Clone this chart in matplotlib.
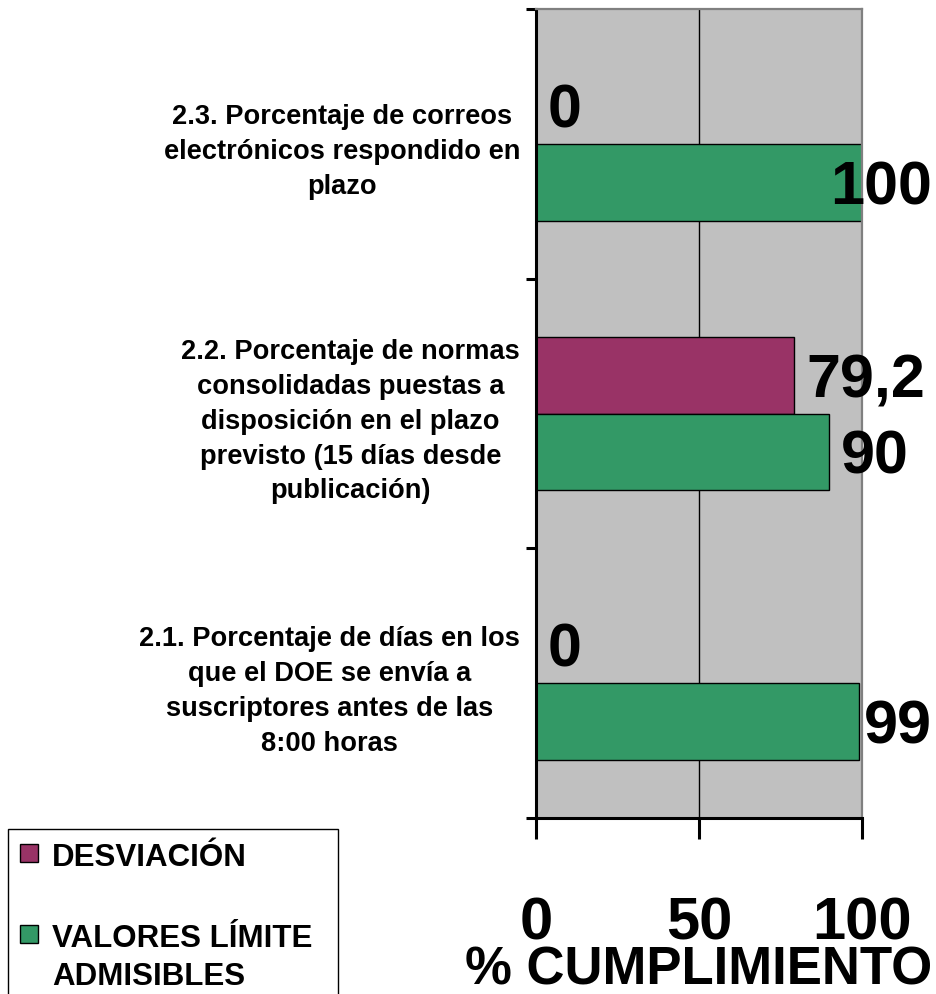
import matplotlib

matplotlib.use("Agg")
import matplotlib.pyplot as plt
import numpy as np
from matplotlib.patches import Rectangle

# Values (bottom category first).
CATEGORIES = [
    "2.1. Porcentaje de días en los\nque el DOE se envía a\nsuscriptores antes de las\n8:00 horas",
    "2.2. Porcentaje de normas\nconsolidadas puestas a\ndisposición en el plazo\nprevisto (15 días desde\npublicación)",
    "2.3. Porcentaje de correos\nelectrónicos respondido en\nplazo",
]
DESVIACION = [0, 79.2, 0]
VALORES_LIMITE = [99, 90, 100]
SERIES_NAMES = ["DESVIACIÓN", "VALORES LÍMITE\nADMISIBLES"]
X_TICKS = [0, 50, 100]
X_LABEL = "% CUMPLIMIENTO"

PURPLE = "#993366"
GREEN = "#339966"
PLOT_GRAY = "#C0C0C0"
BORDER_GRAY = "#808080"
FIG_W, FIG_H = 937, 995
DPI = 100

plt.rcParams["font.family"] = ["Liberation Sans", "DejaVu Sans"]
plt.rcParams["font.weight"] = "bold"


def fmt_value(value: float) -> str:
    if float(value).is_integer():
        return str(int(value))
    return f"{value:.1f}".replace(".", ",")


fig = plt.figure(figsize=(FIG_W / DPI, FIG_H / DPI), dpi=DPI)
ax = fig.add_axes(
    [536 / FIG_W, 1 - 819 / FIG_H, (862 - 536) / FIG_W, (819 - 10) / FIG_H]
)
ax.set_facecolor(PLOT_GRAY)

positions = np.arange(len(CATEGORIES))
bar_h = 0.285
purple_bars = ax.barh(
    positions + bar_h / 2, DESVIACION, height=bar_h,
    color=PURPLE, edgecolor="black", linewidth=1.0,
)
green_bars = ax.barh(
    positions - bar_h / 2, VALORES_LIMITE, height=bar_h,
    color=GREEN, edgecolor="black", linewidth=1.0,
)

ax.set_xlim(0, 100)
ax.set_ylim(-0.5, len(CATEGORIES) - 0.5)

# category boundaries carry the ticks, names sit on minor ticks
ax.set_yticks(np.arange(len(CATEGORIES) + 1) - 0.5)
ax.set_yticklabels([])
ax.set_yticks(positions, CATEGORIES, minor=True)
for lab in ax.get_yticklabels(minor=True):
    lab.set_multialignment("center")
    lab.set_linespacing(1.44)
ax.tick_params(axis="y", which="major", direction="out", length=7, width=2.2)
ax.tick_params(axis="y", which="minor", length=0, pad=11.5, labelsize=19.6)

ax.set_xticks(X_TICKS, [str(t) for t in X_TICKS])
ax.tick_params(axis="x", direction="out", length=15, width=2.2, pad=41, labelsize=43)
ax.set_xlabel(X_LABEL, fontsize=38, fontweight="bold")
ax.xaxis.set_label_coords(0.5, -0.156)

ax.set_axisbelow(True)
ax.grid(axis="x", color="black", linewidth=1.0)
ax.grid(axis="y", visible=False)

for side in ("left", "bottom"):
    ax.spines[side].set_color("black")
    ax.spines[side].set_linewidth(2.2)
for side in ("top", "right"):
    ax.spines[side].set_color(BORDER_GRAY)
    ax.spines[side].set_linewidth(1.6)

labels = []
for bars, values in ((purple_bars, DESVIACION), (green_bars, VALORES_LIMITE)):
    for rect, value in zip(bars, values):
        ann = ax.annotate(
            fmt_value(value),
            xy=(value, rect.get_y() + rect.get_height() / 2),
            xytext=(8.5, -4), textcoords="offset points",
            ha="left", va="center", fontsize=44, fontweight="bold",
            annotation_clip=False,
        )
        labels.append(ann)

# Excel pulls labels back inside the chart when they would spill off the edge
fig.canvas.draw()
renderer = fig.canvas.get_renderer()
right_limit = 932
for ann in labels:
    box = ann.get_window_extent(renderer)
    if box.x1 > right_limit:
        shift_pt = (box.x1 - right_limit) * 72 / DPI
        dx, dy = ann.xyann
        ann.xyann = (dx - shift_pt, dy)

# hand-built legend box, as in the original
fig.patches.append(
    Rectangle((8 / FIG_W, -0.05), 330 / FIG_W, (1 - 830 / FIG_H) + 0.05,
              transform=fig.transFigure, facecolor="white",
              edgecolor="black", linewidth=1.0)
)
legend_rows = [(854, PURPLE), (935, GREEN)]
for (y_px, color), name in zip(legend_rows, SERIES_NAMES):
    fig.patches.append(
        Rectangle((20 / FIG_W, 1 - (y_px + 9) / FIG_H), 18 / FIG_W, 18 / FIG_H,
                  transform=fig.transFigure, facecolor=color,
                  edgecolor="black", linewidth=1.0)
    )
    fig.text(52 / FIG_W, 1 - (y_px - 11) / FIG_H, name, fontsize=22.5,
             fontweight="bold", ha="left", va="top", linespacing=1.36)

fig.savefig("out.png", dpi=DPI)
